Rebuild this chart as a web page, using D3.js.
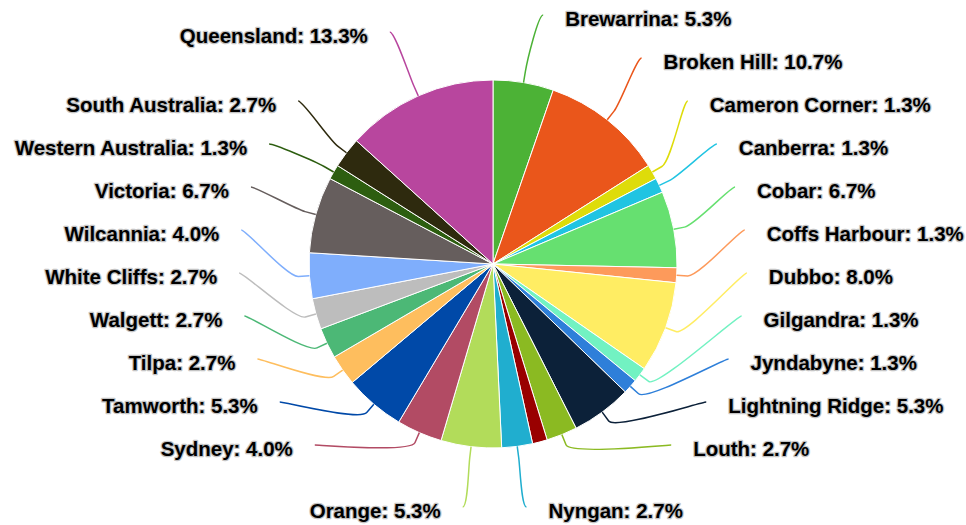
<!DOCTYPE html>
<html>
<head>
<meta charset="utf-8">
<script src="https://cdn.jsdelivr.net/npm/d3@7"></script>
<style>
  html, body { margin: 0; padding: 0; background: #fff; }
  svg { display: block; }
  .label {
    font-family: "Liberation Sans", Arial, sans-serif;
    font-weight: bold;
    font-size: 20.5px;
    fill: #000;
    stroke: #c4c4c4;
    stroke-width: 2.5px;
    stroke-linejoin: round;
    paint-order: stroke;
  }
</style>
</head>
<body>
<svg id="chart" width="966" height="525"></svg>
<script>
// slices clockwise from 12 o'clock, shares in percent
const places = ["Brewarrina", "Broken Hill", "Cameron Corner", "Canberra", "Cobar", "Coffs Harbour",
    "Dubbo", "Gilgandra", "Jyndabyne", "Lightning Ridge", "Louth", "Menindee", "Nyngan", "Orange",
    "Sydney", "Tamworth", "Tilpa", "Walgett", "White Cliffs", "Wilcannia", "Victoria",
    "Western Australia", "South Australia", "Queensland"];
const shares = [5.3, 10.7, 1.3, 1.3, 6.7, 1.3, 8.0, 1.3, 1.3, 5.3, 2.7, 1.3, 2.7, 5.3,
    4.0, 5.3, 2.7, 2.7, 2.7, 4.0, 6.7, 1.3, 2.7, 13.3];
const colors = ["#4cb236", "#ea561b", "#dedc0a", "#20c4e2", "#66e070", "#fd9a5b",
    "#ffed63", "#72f2c2", "#2e7fd9", "#0c2139", "#8bba22", "#990000", "#20aecf", "#b2dc5a",
    "#b24b64", "#0049a8", "#febe5e", "#4cb876", "#bdbdbd", "#7faefc", "#665e5d",
    "#2d5e10", "#2e2a0e", "#b8469e"];
// no room for this one in the reference, its label is dropped
const hiddenLabels = ["Menindee"];

const width = 966, height = 525;
const cx = 493, cy = 264, radius = 184;
const labelRadius = 254;
const connectorOffset = 11;
const rowGap = 43;
const labelTop = 15, labelBottom = 507, bottomRowGap = 62;

const data = places.map((name, i) => ({ name: name, share: shares[i], color: colors[i] }));

const svg = d3.select("#chart");
const g = svg.append("g");

const pie = d3.pie().sort(null).value(d => d.share);
const arc = d3.arc().innerRadius(0).outerRadius(radius);
const arcs = pie(data);

const at = (a, r) => [cx + r * Math.sin(a), cy - r * Math.cos(a)];

g.selectAll(".slice")
    .data(arcs)
    .join("path")
    .attr("class", "slice")
    .attr("transform", `translate(${cx},${cy})`)
    .attr("d", arc)
    .attr("fill", d => d.data.color)
    .attr("stroke", "#fff")
    .attr("stroke-width", 1)
    .attr("stroke-linejoin", "round");

// label layout: stack rows on each side, pull overlapping ones into groups
function distribute(list, lo, hi) {
    list.sort((a, b) => a.target - b.target);
    let groups = list.map(d => ({ items: [d] }));
    const place = grp => {
        const n = grp.items.length;
        const mean = d3.mean(grp.items, d => d.target);
        grp.start = Math.max(lo, Math.min(hi - (n - 1) * rowGap, mean - (n - 1) * rowGap / 2));
    };
    groups.forEach(place);
    let merged = true;
    while (merged) {
        merged = false;
        for (let i = 1; i < groups.length; i++) {
            const a = groups[i - 1], b = groups[i];
            if (b.start < a.start + a.items.length * rowGap) {
                a.items = a.items.concat(b.items);
                place(a);
                groups.splice(i, 1);
                merged = true;
                break;
            }
        }
    }
    groups.forEach(grp => grp.items.forEach((d, k) => d.y = grp.start + k * rowGap));
}

const labels = arcs
    .filter(d => !hiddenLabels.includes(d.data.name))
    .map(d => {
        const mid = (d.startAngle + d.endAngle) / 2;
        return {
            arc: d,
            mid: mid,
            side: mid < Math.PI ? 1 : -1,
            target: cy - labelRadius * Math.cos(mid)
        };
    });

[1, -1].forEach(side => {
    const onSide = labels.filter(l => l.side === side);
    const pinned = onSide.filter(l => l.target > labelBottom);
    pinned.forEach(l => { l.y = labelBottom; l.pinned = true; });
    distribute(onSide.filter(l => l.target <= labelBottom), labelTop, labelBottom - bottomRowGap);
});

labels.forEach(l => {
    const dy = l.pinned ? Math.min(l.target - cy, labelRadius) : l.y - cy;
    l.x = cx + l.side * Math.sqrt(Math.max(0, labelRadius * labelRadius - dy * dy));
});

const connector = l => {
    const [tx, ty] = at(l.mid, radius);
    const [bx, by] = at(l.mid, radius + connectorOffset);
    return `M${l.x},${l.y}C${l.x - l.side * 5},${l.y} ${2 * bx - tx},${2 * by - ty} ${bx},${by}L${tx},${ty}`;
};

g.selectAll(".connector")
    .data(labels)
    .join("path")
    .attr("class", "connector")
    .attr("d", connector)
    .attr("fill", "none")
    .attr("stroke", l => l.arc.data.color)
    .attr("stroke-width", 1.5);

g.selectAll(".label")
    .data(labels)
    .join("text")
    .attr("class", "label")
    .attr("x", l => l.x + l.side * 22)
    .attr("y", l => l.y + 11)
    .attr("text-anchor", l => l.side > 0 ? "start" : "end")
    .text(l => `${l.arc.data.name}: ${l.arc.data.share.toFixed(1)}%`);
</script>
</body>
</html>
